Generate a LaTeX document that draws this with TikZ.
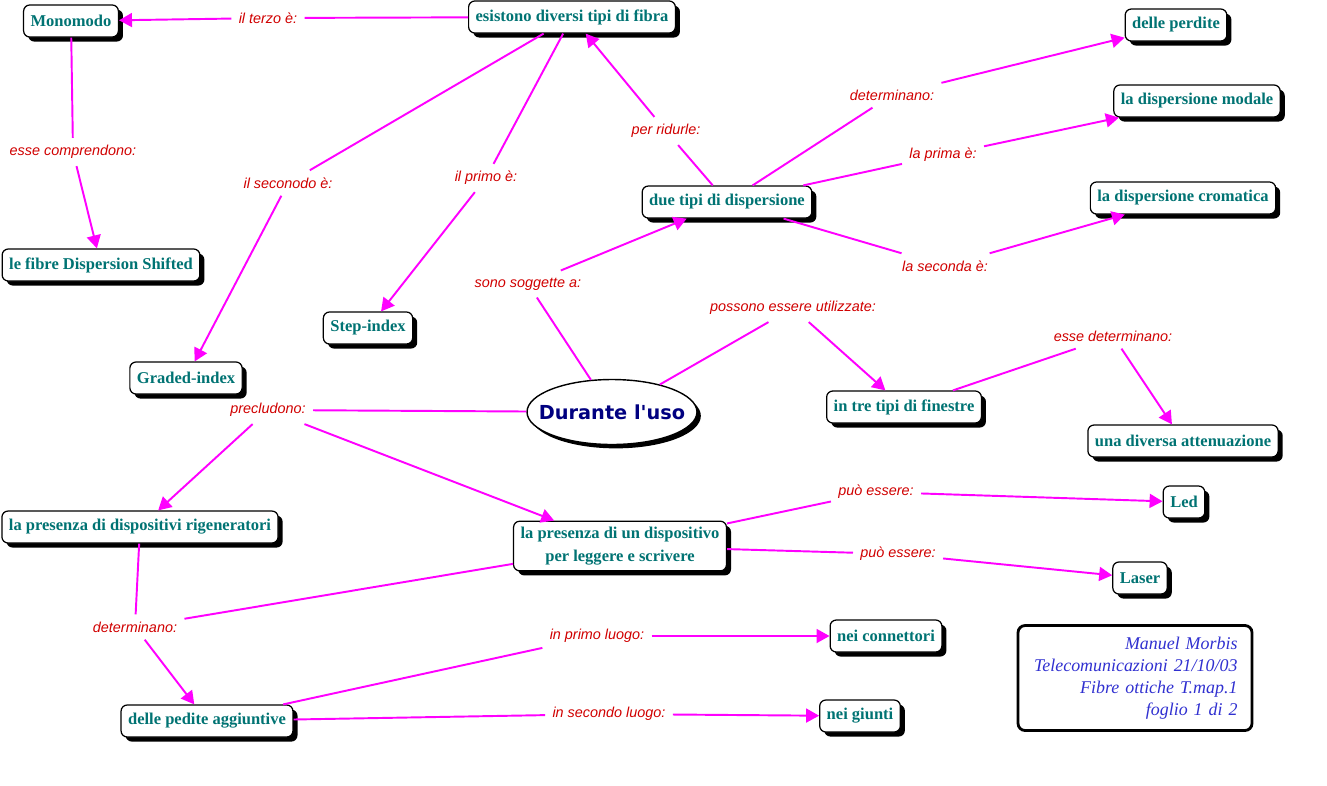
\documentclass[tikz,border=0pt]{standalone}
\usepackage{fontspec}
\setmainfont{Liberation Serif}
\newfontfamily\lblfont{Liberation Sans}
\newfontfamily\usofont{DejaVu Sans}
\usetikzlibrary{arrows.meta, shadows, shapes.geometric}
\definecolor{mapTeal}{HTML}{007373}
\definecolor{mapRed}{HTML}{D00000}
\definecolor{mapPink}{HTML}{FF00FF}
\definecolor{mapNavy}{HTML}{000080}
\definecolor{mapBlue}{HTML}{3030D0}
\tikzset{
  concept/.style  = {draw=black, line width=0.7pt, fill=white, rounded corners=3.5pt,
                     font=\bfseries\fontsize{9.4}{13}\selectfont, text=mapTeal, inner xsep=4pt,
                     minimum height=0.64cm,
                     drop shadow={shadow xshift=2.6pt, shadow yshift=-2.6pt, fill=black, opacity=1}},
  linklbl/.style  = {font=\lblfont\itshape\fontsize{8.2}{10}\selectfont, text=mapRed, inner sep=4pt},
  link/.style     = {mapPink, line width=1.1pt},
  linkto/.style   = {link, -{Triangle[length=2.6mm, width=2.8mm]}},
}
\begin{document}
\begin{tikzpicture}[x=0.02cm, y=-0.02cm]
  \useasboundingbox (0,0) rectangle (1327,785);
  % concepts
  \node[concept] (fibra)    at (572,17)  {esistono diversi tipi di fibra};
  \node[concept] (mono)     at (71,21)   {Monomodo};
  \node[concept] (perdite)  at (1176,25) {delle perdite};
  \node[concept] (modale)   at (1197,101) {la dispersione modale};
  \node[concept] (disp)     at (727,202) {due tipi di dispersione};
  \node[concept] (cromat)   at (1183,198) {la dispersione cromatica};
  \node[concept] (shifted)  at (101,265) {le fibre Dispersion Shifted};
  \node[concept] (step)     at (368,328) {Step-index};
  \node[concept] (graded)   at (186,378) {Graded-index};
  \node[concept] (finestre) at (904,407) {in tre tipi di finestre};
  \node[concept] (atten)    at (1183,441) {una diversa attenuazione};
  \node[concept] (rigen)    at (140,527) {la presenza di dispositivi rigeneratori};
  \node[concept, align=center] (lettore) at (620,546) {la presenza di un dispositivo\\per leggere e scrivere};
  \node[concept] (led)      at (1184,502) {Led};
  \node[concept] (laser)    at (1140,578) {Laser};
  \node[concept] (conn)     at (886,636) {nei connettori};
  \node[concept] (pedite)   at (207,721) {delle pedite aggiuntive};
  \node[concept] (giunti)   at (860,716) {nei giunti};
  \node[ellipse, draw=black, line width=0.8pt, fill=white, minimum width=3.4cm, minimum height=1.3cm,
        inner xsep=-8pt, font=\usofont\bfseries\fontsize{11}{13}\selectfont, text=mapNavy,
        drop shadow={shadow xshift=2.2pt, shadow yshift=-2.2pt, fill=black, opacity=1}] (uso) at (612,412) {Durante l'uso};
  % link labels
  \node[linklbl] (terzo)    at (268,18)  {il terzo è:};
  \node[linklbl] (compr)    at (73,152)  {esse comprendono:};
  \node[linklbl] (secondo)  at (288,183) {il seconodo è:};
  \node[linklbl] (primo)    at (486,178) {il primo è:};
  \node[linklbl] (ridurle)  at (666,131) {per ridurle:};
  \node[linklbl] (determ)   at (892,95)  {determinano:};
  \node[linklbl] (prima)    at (943,155) {la prima è:};
  \node[linklbl] (seconda)  at (945,266) {la seconda è:};
  \node[linklbl] (soggette) at (528,284) {sono soggette a:};
  \node[linklbl] (utilizz)  at (793,308) {possono essere utilizzate:};
  \node[linklbl] (essedet)  at (1113,336) {esse determinano:};
  \node[linklbl] (precl)    at (268,410) {precludono:};
  \node[linklbl] (puoA)     at (876,492) {può essere:};
  \node[linklbl] (puoB)     at (898,554) {può essere:};
  \node[linklbl] (determB)  at (135,627) {determinano:};
  \node[linklbl] (luogoA)   at (597,636) {in primo luogo:};
  \node[linklbl] (luogoB)   at (609,714) {in secondo luogo:};
  % connectors
  \foreach \a/\l/\b in {fibra/terzo/mono, fibra/secondo/graded, fibra/primo/step,
      mono/compr/shifted, disp/ridurle/fibra, disp/determ/perdite, disp/prima/modale,
      disp/seconda/cromat, uso/soggette/disp, uso/utilizz/finestre, finestre/essedet/atten,
      uso/precl/rigen, lettore/puoA/led, lettore/puoB/laser, rigen/determB/pedite,
      pedite/luogoA/conn, pedite/luogoB/giunti} {
    \draw[link] (\a) -- (\l);
    \draw[linkto] (\l) -- (\b);
  }
  \draw[linkto] (precl) -- (lettore);
  \draw[link] (lettore) -- (determB);
  % author box
  \node[draw=black, line width=1.6pt, rounded corners=4pt, minimum width=4.68cm, minimum height=2.1cm,
        align=right, text width=4.1cm, font=\itshape\fontsize{10.2}{12.5}\selectfont, text=mapBlue] (autore) at (1135,678)
    {Manuel Morbis\\Telecomunicazioni 21/10/03\\Fibre ottiche T.map.1\\foglio 1 di 2};
\end{tikzpicture}
\end{document}
